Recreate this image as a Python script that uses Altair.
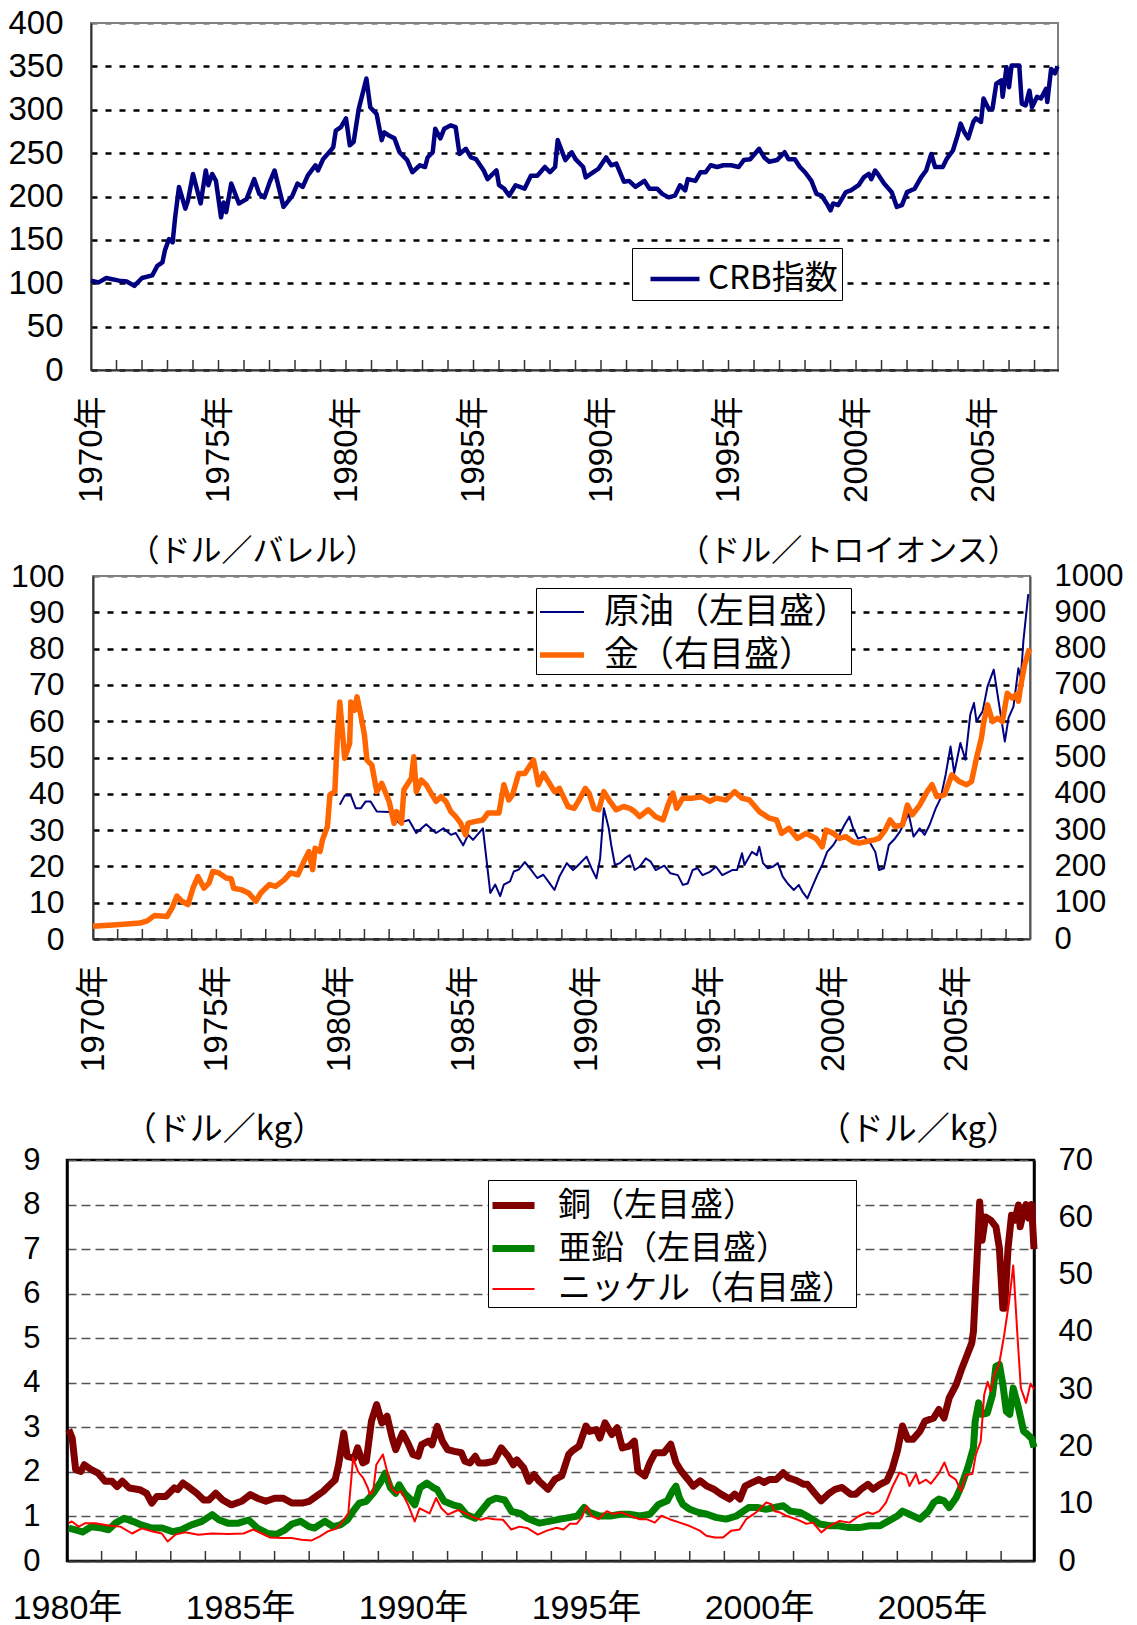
import altair as alt
import pandas as pd

JP = "Noto Sans CJK JP"
NUM = "Liberation Sans, Noto Sans CJK JP"

# ---------------- data ----------------
crb = [(1970.0,103),(1970.3,101),(1970.6,106),(1971.1,103),(1971.4,102),(1971.7,97),(1972.0,106),(1972.4,109),(1972.6,120),(1972.8,124),(1972.9,138),(1973.06,151),(1973.2,147),(1973.3,176),(1973.45,211),(1973.7,186),(1973.8,195),(1974.0,226),(1974.3,192),(1974.5,230),(1974.6,213),(1974.75,226),(1974.9,218),(1975.1,176),(1975.2,193),(1975.3,182),(1975.5,215),(1975.8,192),(1976.1,197),(1976.4,220),(1976.6,203),(1976.8,199),(1977.0,216),(1977.2,230),(1977.55,188),(1977.9,201),(1978.1,215),(1978.3,211),(1978.5,224),(1978.8,236),(1978.9,230),(1979.1,243),(1979.4,253),(1979.5,257),(1979.6,276),(1979.8,280),(1980.0,290),(1980.15,259),(1980.3,263),(1980.5,301),(1980.8,336),(1980.95,303),(1981.2,295),(1981.4,265),(1981.5,274),(1981.7,270),(1981.9,267),(1982.1,251),(1982.4,242),(1982.6,228),(1982.9,236),(1983.1,234),(1983.2,245),(1983.4,251),(1983.5,278),(1983.7,267),(1983.85,278),(1984.1,282),(1984.3,280),(1984.45,249),(1984.7,255),(1984.9,245),(1985.1,243),(1985.4,230),(1985.55,220),(1985.9,230),(1986.0,213),(1986.2,209),(1986.4,201),(1986.65,213),(1987.0,209),(1987.25,224),(1987.5,224),(1987.8,234),(1988.0,228),(1988.2,234),(1988.3,265),(1988.6,242),(1988.85,251),(1989.0,243),(1989.3,234),(1989.4,222),(1989.7,228),(1989.9,232),(1990.2,245),(1990.4,236),(1990.6,238),(1990.9,217),(1991.1,218),(1991.35,211),(1991.7,218),(1991.9,209),(1992.2,209),(1992.4,203),(1992.65,199),(1992.9,201),(1993.1,213),(1993.3,207),(1993.4,220),(1993.7,218),(1993.9,228),(1994.1,228),(1994.3,236),(1994.55,234),(1994.8,236),(1995.1,236),(1995.4,234),(1995.6,242),(1995.85,243),(1996.2,255),(1996.4,245),(1996.6,240),(1996.9,242),(1997.2,251),(1997.35,243),(1997.6,243),(1997.8,234),(1998.0,228),(1998.25,218),(1998.45,203),(1998.65,201),(1998.85,192),(1999.0,184),(1999.1,192),(1999.3,190),(1999.6,205),(1999.8,207),(2000.1,213),(2000.3,222),(2000.5,226),(2000.6,220),(2000.75,230),(2000.9,224),(2001.1,215),(2001.4,205),(2001.6,188),(2001.8,190),(2002.0,205),(2002.3,209),(2002.55,222),(2002.75,230),(2002.95,249),(2003.1,234),(2003.4,234),(2003.55,243),(2003.8,253),(2004.0,272),(2004.1,284),(2004.25,274),(2004.4,267),(2004.6,286),(2004.7,290),(2004.9,286),(2005.0,313),(2005.2,301),(2005.35,301),(2005.5,330),(2005.7,334),(2005.75,315),(2005.9,349),(2006.0,326),(2006.1,351),(2006.4,351),(2006.5,307),(2006.65,305),(2006.8,322),(2006.9,303),(2007.1,315),(2007.25,313),(2007.45,324),(2007.5,309),(2007.65,347),(2007.8,342),(2007.9,350)]

oil = [(1980.0,37.0),(1980.2,39.5),(1980.45,39.5),(1980.65,36),(1980.85,36),(1981.05,37.9),(1981.25,37.9),(1981.5,35.1),(1982.0,35),(1982.4,32),(1982.8,32.8),(1983.1,29.2),(1983.5,31.6),(1983.9,29.2),(1984.2,30.5),(1984.5,28.7),(1984.7,29.2),(1985.0,25.8),(1985.2,28.7),(1985.4,27.3),(1985.8,30.5),(1986.1,12.7),(1986.3,15),(1986.5,11.8),(1986.65,15),(1986.9,15.9),(1987.05,18.6),(1987.25,19.1),(1987.5,21.2),(1987.7,19.5),(1988.0,16.8),(1988.25,17.7),(1988.5,15.4),(1988.7,13.5),(1988.9,17.2),(1989.2,20.9),(1989.45,19),(1989.6,19.9),(1990.0,22.7),(1990.2,19.5),(1990.4,16.7),(1990.55,22.2),(1990.7,36),(1990.9,30.5),(1991.0,25.9),(1991.15,20.4),(1991.35,20.9),(1991.55,22.2),(1991.75,23.1),(1991.95,19),(1992.15,19.9),(1992.4,22.2),(1992.6,21.3),(1992.8,19),(1993.15,20.2),(1993.4,18.1),(1993.7,17.6),(1993.9,14.9),(1994.1,15.3),(1994.3,19),(1994.5,19.5),(1994.7,17.6),(1995.0,18.5),(1995.25,19.9),(1995.5,17.6),(1995.9,19),(1996.1,19),(1996.3,23.6),(1996.4,20.4),(1996.7,24),(1996.9,23.1),(1997.0,25.4),(1997.15,20.9),(1997.35,19.5),(1997.55,19.9),(1997.75,20.9),(1997.95,17.2),(1998.15,15.3),(1998.4,13.5),(1998.6,14.9),(1998.75,13),(1998.95,11.2),(1999.15,14.4),(1999.35,17.6),(1999.55,20.4),(1999.75,24),(2000.0,25.9),(2000.25,28.7),(2000.45,31.4),(2000.65,33.7),(2000.8,30.5),(2001.0,27.7),(2001.25,28.2),(2001.5,26.4),(2001.7,24),(2001.85,19),(2002.05,19.5),(2002.25,25.9),(2002.5,27.7),(2002.7,29.6),(2002.9,32.3),(2003.05,34.6),(2003.25,28.2),(2003.5,30.5),(2003.7,28.7),(2003.9,31.4),(2004.15,36),(2004.35,38.8),(2004.55,45.2),(2004.75,53),(2004.9,45.7),(2005.15,54),(2005.35,49.4),(2005.55,61.8),(2005.7,65),(2005.8,60),(2006.05,62.7),(2006.25,69.6),(2006.5,74.2),(2006.7,65.4),(2006.95,54.4),(2007.1,60.9),(2007.3,64),(2007.5,74.6),(2007.6,72),(2007.7,82),(2007.9,95)]

gold = [(1970.0,35),(1971.1,40),(1971.9,44),(1972.2,50),(1972.5,65),(1973.0,62),(1973.2,85),(1973.4,118),(1973.6,104),(1973.85,95),(1974.05,140),(1974.25,172),(1974.5,140),(1974.7,154),(1974.85,186),(1975.1,182),(1975.4,168),(1975.6,166),(1975.7,140),(1976.0,136),(1976.3,127),(1976.6,104),(1976.8,127),(1977.15,150),(1977.4,145),(1977.75,163),(1978.0,182),(1978.3,177),(1978.55,214),(1978.75,241),(1978.9,191),(1979.0,250),(1979.2,241),(1979.3,273),(1979.5,310),(1979.6,397),(1979.8,406),(1979.9,553),(1980.0,653),(1980.2,498),(1980.4,539),(1980.45,653),(1980.6,630),(1980.7,667),(1980.85,617),(1981.0,562),(1981.1,493),(1981.3,479),(1981.5,406),(1981.7,429),(1982.0,379),(1982.2,319),(1982.3,351),(1982.5,319),(1982.6,411),(1982.9,443),(1983.0,502),(1983.1,406),(1983.3,438),(1983.5,425),(1983.7,402),(1983.9,379),(1984.1,392),(1984.3,379),(1984.5,351),(1984.7,337),(1984.9,319),(1985.1,287),(1985.2,319),(1985.5,324),(1985.8,328),(1986.0,347),(1986.45,347),(1986.65,425),(1986.85,383),(1987.0,397),(1987.25,456),(1987.5,456),(1987.85,493),(1988.05,425),(1988.25,456),(1988.45,434),(1988.7,406),(1988.9,415),(1989.25,365),(1989.5,360),(1989.7,383),(1989.95,415),(1990.1,402),(1990.3,360),(1990.5,356),(1990.7,406),(1990.95,379),(1991.2,356),(1991.5,365),(1991.75,360),(1991.95,351),(1992.15,337),(1992.5,356),(1992.8,337),(1993.1,328),(1993.3,369),(1993.5,402),(1993.65,360),(1993.9,388),(1994.3,388),(1994.65,392),(1995.0,379),(1995.25,388),(1995.65,383),(1996.0,406),(1996.3,388),(1996.6,383),(1997.0,351),(1997.4,333),(1997.7,328),(1997.9,291),(1998.2,305),(1998.55,277),(1998.9,291),(1999.3,277),(1999.55,254),(1999.7,300),(2000.0,291),(2000.25,277),(2000.5,282),(2000.8,268),(2001.05,264),(2001.3,268),(2001.65,273),(2001.85,277),(2002.1,300),(2002.3,328),(2002.5,310),(2002.8,314),(2003.0,369),(2003.2,342),(2003.5,369),(2003.8,406),(2004.0,425),(2004.2,392),(2004.5,397),(2004.8,452),(2005.1,434),(2005.4,425),(2005.6,434),(2005.8,498),(2006.0,553),(2006.1,599),(2006.25,645),(2006.45,599),(2006.65,608),(2006.85,599),(2007.05,677),(2007.25,664),(2007.4,673),(2007.5,655),(2007.6,700),(2007.75,755),(2007.95,800)]

copper = [(1980.05,2.95),(1980.15,2.76),(1980.25,2.05),(1980.4,2.01),(1980.5,2.16),(1980.7,2.05),(1980.9,1.97),(1981.1,1.79),(1981.3,1.79),(1981.45,1.67),(1981.6,1.79),(1981.8,1.64),(1982.1,1.60),(1982.3,1.52),(1982.45,1.30),(1982.6,1.45),(1982.85,1.45),(1983.1,1.64),(1983.2,1.60),(1983.35,1.75),(1983.55,1.64),(1983.75,1.52),(1983.95,1.37),(1984.1,1.37),(1984.3,1.52),(1984.5,1.37),(1984.75,1.26),(1985.05,1.34),(1985.3,1.49),(1985.5,1.41),(1985.75,1.34),(1986.0,1.41),(1986.25,1.41),(1986.5,1.30),(1986.8,1.30),(1987.0,1.34),(1987.2,1.45),(1987.4,1.56),(1987.6,1.71),(1987.75,1.82),(1987.85,2.16),(1988.0,2.87),(1988.1,2.35),(1988.3,2.31),(1988.4,2.54),(1988.55,2.20),(1988.65,2.24),(1988.8,3.14),(1988.95,3.51),(1989.1,3.10),(1989.25,3.25),(1989.4,2.76),(1989.5,2.50),(1989.6,2.69),(1989.7,2.87),(1989.85,2.65),(1990.0,2.39),(1990.15,2.35),(1990.25,2.61),(1990.45,2.69),(1990.55,2.61),(1990.7,3.02),(1990.85,2.69),(1991.0,2.50),(1991.2,2.46),(1991.4,2.43),(1991.5,2.24),(1991.65,2.20),(1991.8,2.35),(1991.9,2.20),(1992.1,2.20),(1992.35,2.24),(1992.55,2.54),(1992.75,2.35),(1992.9,2.16),(1993.0,2.27),(1993.2,2.09),(1993.35,1.79),(1993.5,1.94),(1993.65,1.79),(1993.9,1.61),(1994.1,1.83),(1994.3,1.91),(1994.5,2.39),(1994.6,2.47),(1994.8,2.58),(1995.0,3.03),(1995.1,2.91),(1995.3,2.95),(1995.4,2.76),(1995.55,3.10),(1995.75,2.84),(1995.9,2.99),(1996.05,2.54),(1996.25,2.58),(1996.4,2.69),(1996.5,2.02),(1996.7,1.91),(1996.85,2.21),(1997.0,2.43),(1997.25,2.43),(1997.45,2.62),(1997.6,2.21),(1997.75,2.02),(1997.95,1.83),(1998.1,1.68),(1998.3,1.80),(1998.5,1.68),(1998.7,1.61),(1998.9,1.50),(1999.15,1.39),(1999.3,1.50),(1999.45,1.39),(1999.6,1.68),(1999.8,1.76),(2000.0,1.83),(2000.15,1.76),(2000.3,1.83),(2000.5,1.83),(2000.7,1.98),(2000.85,1.87),(2001.1,1.80),(2001.3,1.72),(2001.4,1.72),(2001.6,1.53),(2001.8,1.35),(2002.0,1.50),(2002.2,1.61),(2002.4,1.65),(2002.65,1.50),(2002.8,1.50),(2002.95,1.61),(2003.15,1.72),(2003.3,1.61),(2003.5,1.72),(2003.7,1.80),(2003.85,2.06),(2004.0,2.47),(2004.15,3.03),(2004.3,2.73),(2004.45,2.73),(2004.65,2.91),(2004.8,3.14),(2005.05,3.21),(2005.2,3.40),(2005.35,3.21),(2005.5,3.66),(2005.7,3.96),(2005.85,4.29),(2006.0,4.59),(2006.15,4.89),(2006.2,5.15),(2006.3,6.72),(2006.38,8.06),(2006.45,7.20),(2006.55,7.72),(2006.7,7.65),(2006.85,7.50),(2006.95,7.02),(2007.05,5.67),(2007.1,5.67),(2007.2,7.02),(2007.3,7.76),(2007.4,7.65),(2007.5,7.99),(2007.55,7.50),(2007.65,7.85),(2007.72,8.0),(2007.8,7.7),(2007.88,8.0),(2007.95,7.0)]

zinc = [(1980.05,0.74),(1980.25,0.70),(1980.45,0.65),(1980.7,0.77),(1981.0,0.74),(1981.2,0.70),(1981.4,0.85),(1981.65,0.96),(1981.9,0.89),(1982.15,0.81),(1982.45,0.74),(1982.75,0.74),(1983.05,0.66),(1983.3,0.70),(1983.6,0.81),(1983.9,0.89),(1984.2,1.04),(1984.4,0.92),(1984.65,0.85),(1984.95,0.85),(1985.25,0.92),(1985.5,0.74),(1985.8,0.62),(1986.05,0.60),(1986.3,0.70),(1986.5,0.83),(1986.75,0.89),(1987.0,0.77),(1987.15,0.74),(1987.45,0.89),(1987.7,0.77),(1987.9,0.81),(1988.1,0.92),(1988.3,1.15),(1988.45,1.30),(1988.65,1.34),(1988.85,1.52),(1989.05,1.75),(1989.2,1.97),(1989.35,1.64),(1989.5,1.52),(1989.6,1.71),(1989.75,1.52),(1989.9,1.41),(1990.05,1.26),(1990.2,1.64),(1990.4,1.75),(1990.6,1.64),(1990.7,1.60),(1990.9,1.34),(1991.15,1.26),(1991.35,1.22),(1991.55,1.04),(1991.8,0.96),(1992.0,1.15),(1992.2,1.34),(1992.4,1.41),(1992.65,1.37),(1992.85,1.11),(1993.1,1.07),(1993.3,0.96),(1993.65,0.85),(1994.0,0.90),(1994.25,0.94),(1994.55,0.98),(1994.75,1.01),(1994.95,1.20),(1995.1,1.09),(1995.4,1.01),(1995.7,1.01),(1996.0,1.05),(1996.25,1.05),(1996.55,1.01),(1996.85,1.05),(1997.1,1.27),(1997.35,1.35),(1997.5,1.57),(1997.6,1.68),(1997.7,1.42),(1997.8,1.27),(1998.0,1.16),(1998.25,1.09),(1998.5,1.05),(1998.75,0.98),(1999.05,0.94),(1999.35,1.01),(1999.5,1.09),(1999.7,1.20),(1999.95,1.20),(2000.2,1.16),(2000.45,1.20),(2000.7,1.24),(2000.9,1.12),(2001.2,1.09),(2001.45,0.98),(2001.75,0.83),(2002.05,0.79),(2002.3,0.79),(2002.6,0.75),(2002.9,0.75),(2003.2,0.79),(2003.5,0.79),(2003.75,0.90),(2004.0,1.01),(2004.15,1.12),(2004.35,1.05),(2004.65,0.94),(2004.9,1.12),(2005.05,1.31),(2005.2,1.39),(2005.35,1.35),(2005.5,1.20),(2005.7,1.42),(2005.85,1.68),(2006.05,2.13),(2006.2,2.54),(2006.25,3.14),(2006.35,3.55),(2006.45,3.29),(2006.6,3.32),(2006.75,3.73),(2006.85,4.37),(2006.95,4.41),(2007.05,3.96),(2007.15,3.36),(2007.25,3.29),(2007.35,3.88),(2007.5,3.44),(2007.65,2.91),(2007.75,2.85),(2007.88,2.75),(2007.95,2.55)]

nickel = [(1980.05,6.6),(1980.14,6.9),(1980.34,6.0),(1980.53,6.6),(1980.82,6.6),(1981.2,6.2),(1981.54,6.0),(1981.88,4.8),(1982.16,5.7),(1982.45,5.2),(1982.74,4.8),(1982.91,3.4),(1983.13,4.6),(1983.41,5.0),(1983.8,4.6),(1984.18,4.8),(1984.66,4.7),(1985.1,4.8),(1985.38,5.5),(1985.63,4.8),(1985.87,4.1),(1986.2,4.0),(1986.49,4.0),(1986.78,3.7),(1987.07,3.6),(1987.31,4.3),(1987.55,5.2),(1987.79,5.7),(1987.93,6.6),(1988.13,8.3),(1988.27,18.0),(1988.41,15.6),(1988.56,14.5),(1988.7,12.7),(1988.75,11.6),(1988.85,12.2),(1988.94,16.8),(1989.13,18.6),(1989.23,16.2),(1989.38,12.7),(1989.52,11.8),(1989.66,12.2),(1989.86,9.8),(1990.05,6.9),(1990.19,9.2),(1990.48,8.3),(1990.67,11.0),(1990.82,9.2),(1991.01,8.1),(1991.3,8.9),(1991.54,8.3),(1991.78,7.5),(1991.97,7.2),(1992.12,7.5),(1992.36,7.3),(1992.6,7.2),(1992.84,5.5),(1993.08,6.0),(1993.32,5.7),(1993.61,4.6),(1993.87,5.3),(1994.15,5.8),(1994.35,5.5),(1994.54,6.5),(1994.73,6.5),(1994.88,7.6),(1995.02,9.6),(1995.16,7.9),(1995.36,7.3),(1995.6,8.7),(1995.79,8.2),(1996.03,8.5),(1996.27,7.9),(1996.56,7.3),(1996.75,7.3),(1996.99,6.7),(1997.18,7.9),(1997.42,7.3),(1997.71,6.7),(1998.0,6.1),(1998.29,5.3),(1998.48,4.4),(1998.72,4.1),(1998.96,4.1),(1999.2,5.3),(1999.44,5.5),(1999.63,7.3),(1999.92,8.5),(2000.21,10.2),(2000.36,9.9),(2000.45,8.7),(2000.6,8.5),(2000.79,7.9),(2001.08,7.3),(2001.37,6.5),(2001.56,6.7),(2001.8,5.0),(2002.04,6.1),(2002.33,7.0),(2002.62,6.7),(2002.9,7.9),(2003.14,8.5),(2003.29,8.2),(2003.48,8.7),(2003.67,10.2),(2003.87,13.1),(2004.06,15.4),(2004.25,15.0),(2004.35,13.1),(2004.54,15.2),(2004.63,13.5),(2004.83,14.2),(2004.97,13.5),(2005.21,15.4),(2005.36,17.2),(2005.5,15.0),(2005.69,14.2),(2005.84,12.2),(2005.98,15.0),(2006.17,15.2),(2006.27,18.6),(2006.41,20.9),(2006.51,29.0),(2006.61,31.3),(2006.7,29.6),(2006.8,32.5),(2006.94,34.3),(2007.09,39.5),(2007.23,45.3),(2007.35,51.6),(2007.47,39.5),(2007.57,30.2),(2007.72,27.6),(2007.85,31.0),(2007.95,30.0)]

label_years_70 = [1970, 1975, 1980, 1985, 1990, 1995, 2000, 2005]
label_years_80 = [1980, 1985, 1990, 1995, 2000, 2005]
tick_years_70 = list(range(1971, 2008))
tick_years_80 = list(range(1981, 2008))

crb_name = "CRB指数"
p2_names = ["原油（左目盛）", "金（右目盛）"]
p3_names = ["銅（左目盛）", "亜鉛（左目盛）", "ニッケル（右目盛）"]


def frame(pairs, name):
    return pd.DataFrame({"year": [p[0] for p in pairs],
                         "value": [p[1] for p in pairs],
                         "series": name})


def x_enc(domain, values, angle, pad, size):
    return alt.X("year:Q",
                 scale=alt.Scale(domain=domain, nice=False, zero=False),
                 axis=alt.Axis(values=values, labelExpr="datum.value + '年'",
                               labelAngle=angle, labelFont=NUM, labelFontSize=size,
                               labelColor="black", labelPadding=pad, tickSize=0,
                               domainColor="#333333", domainWidth=2, grid=False,
                               labelOverlap=False, labelFlush=False, title=None),
                 title=None)


def tick_layer(years, x, h):
    return alt.Chart(pd.DataFrame({"year": years})).mark_rule(
        color="#333333", strokeWidth=1.5).encode(
        x=x, y=alt.value(h), y2=alt.value(h - 10))


# ---------------- panel 1 ----------------
W1, H1 = 967, 347
X1 = x_enc([1970, 2007.92], label_years_70, -90, 26, 33)
p1_line = alt.Chart(frame(crb, crb_name)).mark_line(strokeWidth=4.5, strokeJoin="round").encode(
    x=X1,
    y=alt.Y("value:Q", scale=alt.Scale(domain=[0, 400], nice=False),
            axis=alt.Axis(values=list(range(0, 401, 50)), grid=True,
                          gridColor={"condition": {"test": "datum.value === 400", "value": "#808080"}, "value": "black"},
                          gridDash=[6, 8], gridWidth=2.5, tickSize=0,
                          labelFont=NUM, labelFontSize=33, labelColor="black", labelPadding=28,
                          domainColor="#333333", domainWidth=2, title=None,
                          labelOverlap=False, labelFlush=False),
            title=None),
    color=alt.Color("series:N", scale=alt.Scale(domain=[crb_name], range=["#000080"]), title=None,
                    legend=alt.Legend(orient="none", legendX=565, legendY=225,
                                      strokeColor="black", fillColor="white", padding=4,
                                      symbolType="stroke", symbolSize=2401, symbolStrokeWidth=4.5,
                                      symbolOffset=12,
                                      labelFont=JP, labelFontSize=33, labelColor="black",
                                      labelLimit=0, labelOffset=6)),
)
p1 = alt.layer(tick_layer(tick_years_70, X1, H1), p1_line).properties(
    width=W1, height=H1, view=alt.ViewBackground(stroke="#808080", strokeWidth=2))

# ---------------- panel 2 ----------------
W2, H2 = 937, 363
X2 = x_enc([1970, 2007.97], label_years_70, -90, 26, 33)
leg2 = alt.Legend(orient="none", legendX=469, legendY=12, strokeColor="black", fillColor="white",
                  padding=1, symbolType="stroke", symbolSize=1936, labelFont=JP, labelFontSize=35,
                  labelColor="black", labelLimit=0, labelOffset=17, rowPadding=0)
color2 = alt.Color("series:N", scale=alt.Scale(domain=p2_names, range=["#000080", "#FF6600"]),
                   title=None, legend=leg2)
sw2 = alt.StrokeWidth("series:N", scale=alt.Scale(type="ordinal", domain=p2_names, range=[2, 5.5]),
                      title=None, legend=leg2)
grid2 = {"condition": {"test": "datum.value === 100", "value": "#808080"}, "value": "black"}
p2_oil = alt.Chart(frame(oil, p2_names[0])).mark_line(strokeJoin="round").encode(
    x=X2,
    y=alt.Y("value:Q", scale=alt.Scale(domain=[0, 100], nice=False),
            axis=alt.Axis(orient="left", values=list(range(0, 101, 10)), grid=True, gridColor=grid2,
                          gridDash=[6, 8], gridWidth=2.5, tickSize=0,
                          labelFont=NUM, labelFontSize=32, labelColor="black", labelPadding=29,
                          domainColor="#333333", domainWidth=2,
                          title="（ドル／バレル）", titleAngle=0, titleX=159, titleY=-25,
                          titleAlign="center", titleBaseline="middle", titleFont=JP,
                          titleFontSize=31, titleFontWeight="normal", titleColor="black",
                          labelOverlap=False, labelFlush=False)),
    color=color2, strokeWidth=sw2,
)
p2_gold = alt.Chart(frame(gold, p2_names[1])).mark_line(strokeJoin="round").encode(
    x=X2,
    y=alt.Y("value:Q", scale=alt.Scale(domain=[0, 1000], nice=False),
            axis=alt.Axis(orient="right", values=list(range(0, 1001, 100)), grid=False, tickSize=0,
                          format="d",
                          labelFont=NUM, labelFontSize=31, labelColor="black", labelPadding=24,
                          domainColor="#555555", domainWidth=2,
                          title="（ドル／トロイオンス）", titleAngle=0, titleX=-182, titleY=-25,
                          titleAlign="center", titleBaseline="middle", titleFont=JP,
                          titleFontSize=31, titleFontWeight="normal", titleColor="black",
                          labelOverlap=False, labelFlush=False)),
    color=color2, strokeWidth=sw2,
)
p2 = alt.layer(tick_layer(tick_years_70, X2, H2), p2_oil, p2_gold).resolve_scale(
    y="independent").properties(width=W2, height=H2,
                                view=alt.ViewBackground(stroke="#808080", strokeWidth=2))

# ---------------- panel 3 ----------------
W3, H3 = 967, 401
X3 = x_enc([1980, 2007.95], label_years_80, 0, 30, 34)
leg3 = alt.Legend(orient="none", legendX=421, legendY=20, strokeColor="black", fillColor="white",
                  padding=1, symbolType="stroke", symbolSize=1764, labelFont=JP, labelFontSize=33,
                  labelColor="black", labelLimit=0, labelOffset=20, rowPadding=1)
color3 = alt.Color("series:N", scale=alt.Scale(domain=p3_names, range=["#800000", "#008000", "#FF0000"]),
                   title=None, legend=leg3)
sw3 = alt.StrokeWidth("series:N", scale=alt.Scale(type="ordinal", domain=p3_names, range=[7, 7, 2]),
                      title=None, legend=leg3)
p3_left = alt.Chart(pd.concat([frame(zinc, p3_names[1]), frame(copper, p3_names[0])])).mark_line(
    strokeJoin="round").encode(
    x=X3,
    y=alt.Y("value:Q", scale=alt.Scale(domain=[0, 9], nice=False),
            axis=alt.Axis(orient="left", values=list(range(0, 10)), grid=True, gridColor="#555555",
                          gridDash=[9, 5], gridWidth=1.5, tickSize=0,
                          labelFont=NUM, labelFontSize=31, labelColor="black", labelPadding=27,
                          domainColor="black", domainWidth=2.5,
                          title="（ドル／kg）", titleAngle=0, titleX=157, titleY=-31,
                          titleAlign="center", titleBaseline="middle", titleFont=JP,
                          titleFontSize=33, titleFontWeight="normal", titleColor="black",
                          labelOverlap=False, labelFlush=False)),
    color=color3, strokeWidth=sw3, detail="series:N",
)
p3_right = alt.Chart(frame(nickel, p3_names[2])).mark_line(strokeJoin="round").encode(
    x=X3,
    y=alt.Y("value:Q", scale=alt.Scale(domain=[0, 70], nice=False),
            axis=alt.Axis(orient="right", values=list(range(0, 71, 10)), grid=False, tickSize=0,
                          labelFont=NUM, labelFontSize=31, labelColor="black", labelPadding=24,
                          domainColor="black", domainWidth=2.5,
                          title="（ドル／kg）", titleAngle=0, titleX=-116, titleY=-31,
                          titleAlign="center", titleBaseline="middle", titleFont=JP,
                          titleFontSize=33, titleFontWeight="normal", titleColor="black",
                          labelOverlap=False, labelFlush=False)),
    color=color3, strokeWidth=sw3,
)
p3 = alt.layer(tick_layer(tick_years_80, X3, H3), p3_left, p3_right).resolve_scale(
    y="independent").properties(width=W3, height=H3,
                                view=alt.ViewBackground(stroke="black", strokeWidth=2.5))


# ---------------- layout ----------------
def spacer(w, h):
    return alt.Chart(pd.DataFrame({"s": [0]})).mark_point(opacity=0).encode(
        x=alt.X("s:Q", axis=None), y=alt.Y("s:Q", axis=None)).properties(
        width=w, height=h, view=alt.ViewBackground(stroke="transparent"))


# nested rows take no height in a flush layout, so the spacer rows carry it
row1 = alt.hconcat(spacer(24, H1), p1, spacing=0, bounds="flush")
row2 = alt.hconcat(spacer(26, H2), p2, spacing=0, bounds="flush")
chart = alt.vconcat(row1, spacer(1, H1 + 206), row2, spacer(1, H2 + 221), p3,
                    spacing=0, bounds="flush").resolve_scale(
    color="independent", strokeWidth="independent").properties(
    padding={"left": -2, "top": -2, "right": 5, "bottom": 5}, background="white")

chart.save("out.html", embed_options={"renderer": "svg", "actions": False})
